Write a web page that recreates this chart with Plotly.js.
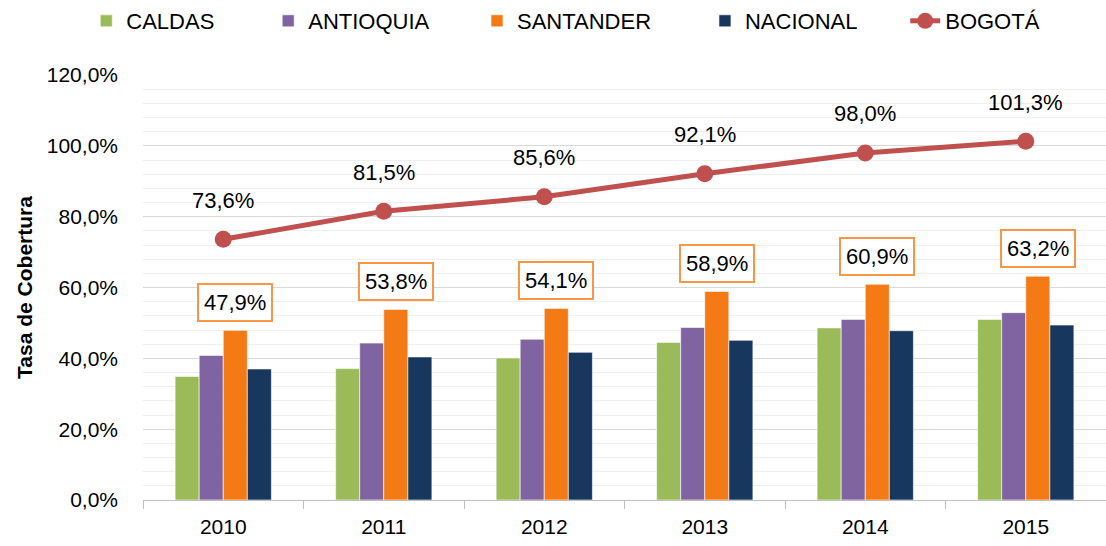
<!DOCTYPE html>
<html>
<head>
<meta charset="utf-8">
<script src="https://cdn.plot.ly/plotly-3.0.1.min.js"></script>
<style>html,body{margin:0;padding:0;background:#fff;}#chart{width:1106px;height:546px;}</style>
</head>
<body>
<div id="chart"></div>
<script>
const years = ['2010', '2011', '2012', '2013', '2014', '2015'];
const caldas = [34.9, 37.1, 40.1, 44.5, 48.6, 51.0];
const antioquia = [40.8, 44.3, 45.4, 48.7, 51.0, 52.9];
const santander = [47.9, 53.8, 54.1, 58.9, 60.9, 63.2];
const nacional = [37.0, 40.4, 41.7, 45.1, 47.8, 49.4];
const bogota = [73.6, 81.5, 85.6, 92.1, 98.0, 101.3];
const yTicks = [0, 20, 40, 60, 80, 100, 120];

const FONT = '"Liberation Sans", Arial, sans-serif';
const fmt = v => v.toFixed(1).replace('.', ',') + '%';
const sp = n => '\u00a0'.repeat(n);
const bargap = 0.4;
const barW = (1 - bargap) / 4;

const traces = [
  {type: 'bar', name: 'CALDAS' + sp(8), x: years, y: caldas, marker: {color: '#9bbb59', line: {color: '#ffffff', width: 0.6}}},
  {type: 'bar', name: 'ANTIOQUIA' + sp(7), x: years, y: antioquia, marker: {color: '#8064a2', line: {color: '#ffffff', width: 0.6}}},
  {type: 'bar', name: 'SANTANDER' + sp(8), x: years, y: santander, marker: {color: '#f47a16', line: {color: '#ffffff', width: 0.6}}},
  {type: 'bar', name: 'NACIONAL' + sp(7), x: years, y: nacional, marker: {color: '#17375e', line: {color: '#ffffff', width: 0.6}}},
  {type: 'scatter', mode: 'lines+markers', name: 'BOGOTÁ', x: years, y: bogota,
   line: {color: '#c0504d', width: 5}, marker: {color: '#c0504d', size: 17}}
];

const annotations = [];
santander.forEach((v, i) => {
  annotations.push({x: i + 0.5 * barW, y: v, xref: 'x', yref: 'y', text: fmt(v), showarrow: false,
    yanchor: 'bottom', yshift: 8, font: {family: FONT, size: 22, color: '#000'},
    bordercolor: '#f79646', borderwidth: 2, borderpad: 5, bgcolor: '#ffffff'});
});
bogota.forEach((v, i) => {
  annotations.push({x: i, y: v, xref: 'x', yref: 'y', text: fmt(v), showarrow: false,
    yanchor: 'middle', yshift: 39, font: {family: FONT, size: 22, color: '#000'}});
});

const layout = {
  width: 1106, height: 546,
  margin: {l: 143, r: 0, t: 75, b: 46},
  paper_bgcolor: '#fff', plot_bgcolor: '#fff',
  font: {family: FONT, size: 22, color: '#000'},
  barmode: 'group', bargap: bargap, bargroupgap: 0,
  showlegend: true,
  legend: {orientation: 'h', xref: 'container', yref: 'container', x: 0.078, y: 1, yanchor: 'top', xanchor: 'left',
    font: {family: FONT, size: 22, color: '#000'}, itemwidth: 30, tracegroupgap: 0, traceorder: 'normal'},
  xaxis: {type: 'category', showline: true, linecolor: '#bfbfbf', linewidth: 1, ticks: 'outside', tickson: 'boundaries',
    ticklen: 8, tickcolor: '#bfbfbf', showgrid: false, ticklabelstandoff: 8,
    tickfont: {family: FONT, size: 21, color: '#000'}},
  yaxis: {range: [0, 120], tickvals: yTicks, ticktext: yTicks.map(fmt), showline: false, zeroline: false,
    showgrid: true, gridcolor: '#d9d9d9', gridwidth: 1, ticklabelstandoff: 24,
    minor: {dtick: 4, showgrid: true, gridcolor: '#efefef', gridwidth: 1},
    tickfont: {family: FONT, size: 21, color: '#000'},
    title: {text: '<b>Tasa de Cobertura</b>', standoff: 8, font: {family: FONT, size: 21, color: '#000'}}},
  annotations: annotations
};

Plotly.newPlot('chart', traces, layout, {displayModeBar: false, staticPlot: true});
</script>
</body>
</html>
